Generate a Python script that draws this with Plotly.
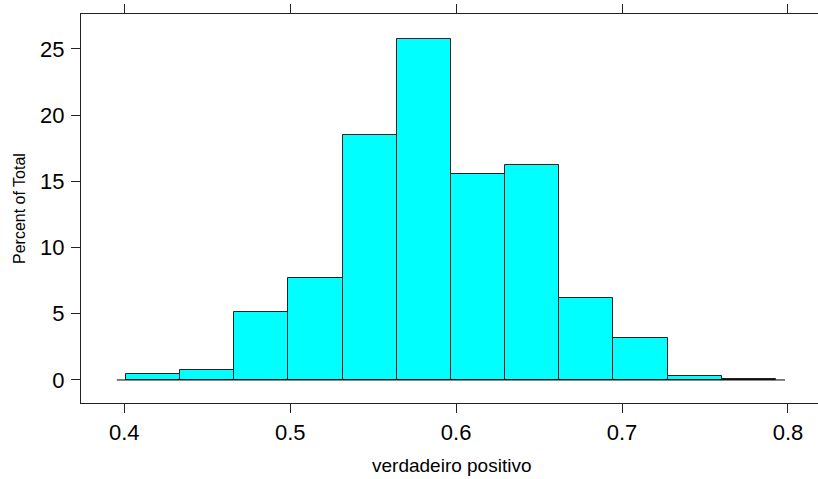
import plotly.graph_objects as go

# Histogram bins (verdadeiro positivo) and percent of total per bin
bin_start = 0.4009
bin_width = 0.03266
percent = [0.43, 0.75, 5.11, 7.73, 18.48, 25.76, 15.56, 16.21, 6.22, 3.15, 0.33, 0.08]
baseline_x = [0.3955, 0.7982]
baseline_y = [0, 0]
x_ticks = [0.4, 0.5, 0.6, 0.7, 0.8]
y_ticks = [0, 5, 10, 15, 20, 25]

centers = [bin_start + bin_width * (i + 0.5) for i in range(len(percent))]

fig = go.Figure()
fig.add_trace(go.Scatter(x=baseline_x, y=baseline_y, mode="lines",
                         line=dict(color="black", width=1), hoverinfo="skip",
                         showlegend=False))
fig.add_trace(go.Bar(x=centers, y=percent, width=bin_width,
                     marker=dict(color="#00FFFF", line=dict(color="#222", width=1)),
                     showlegend=False))

font_family = "Liberation Sans, Arial, sans-serif"
W, H = 818, 479
l, r, t, b = 81, 0, 14, 76
fig.update_layout(
    width=W, height=H,
    margin=dict(l=l, r=r, t=t, b=b),
    paper_bgcolor="white", plot_bgcolor="white",
    font=dict(family=font_family, color="black"),
    bargap=0,
    xaxis=dict(range=[0.3739, 0.8181], tickvals=x_ticks, ticktext=[str(v) for v in x_ticks],
               showgrid=False, zeroline=False, showline=True, linecolor="#222",
               linewidth=1, mirror="ticks", ticks="outside", ticklen=9,
               tickcolor="#222", tickfont=dict(size=22), ticklabelstandoff=1),
    yaxis=dict(range=[-1.74, 27.64], tickvals=y_ticks, showgrid=False, zeroline=False,
               showline=True, linecolor="#222", linewidth=1, mirror=False,
               ticks="outside", ticklen=9, tickcolor="#222", tickfont=dict(size=22),
               ticklabelstandoff=2),
)

pw, ph = W - l - r, H - t - b
def px_to_paper(xp, yp):
    return (xp - l) / pw, (H - b - yp) / ph

ax, ay = px_to_paper(451, 465)
ly, lyy = px_to_paper(20, 209)
fig.add_annotation(text="verdadeiro positivo", x=ax, y=ay, xref="paper", yref="paper",
                   showarrow=False, font=dict(size=19), xanchor="center", yanchor="middle")
fig.add_annotation(text="Percent of Total", x=ly, y=lyy, xref="paper", yref="paper",
                   showarrow=False, font=dict(size=16), textangle=-90,
                   xanchor="center", yanchor="middle")

fig.write_html("out.html")
